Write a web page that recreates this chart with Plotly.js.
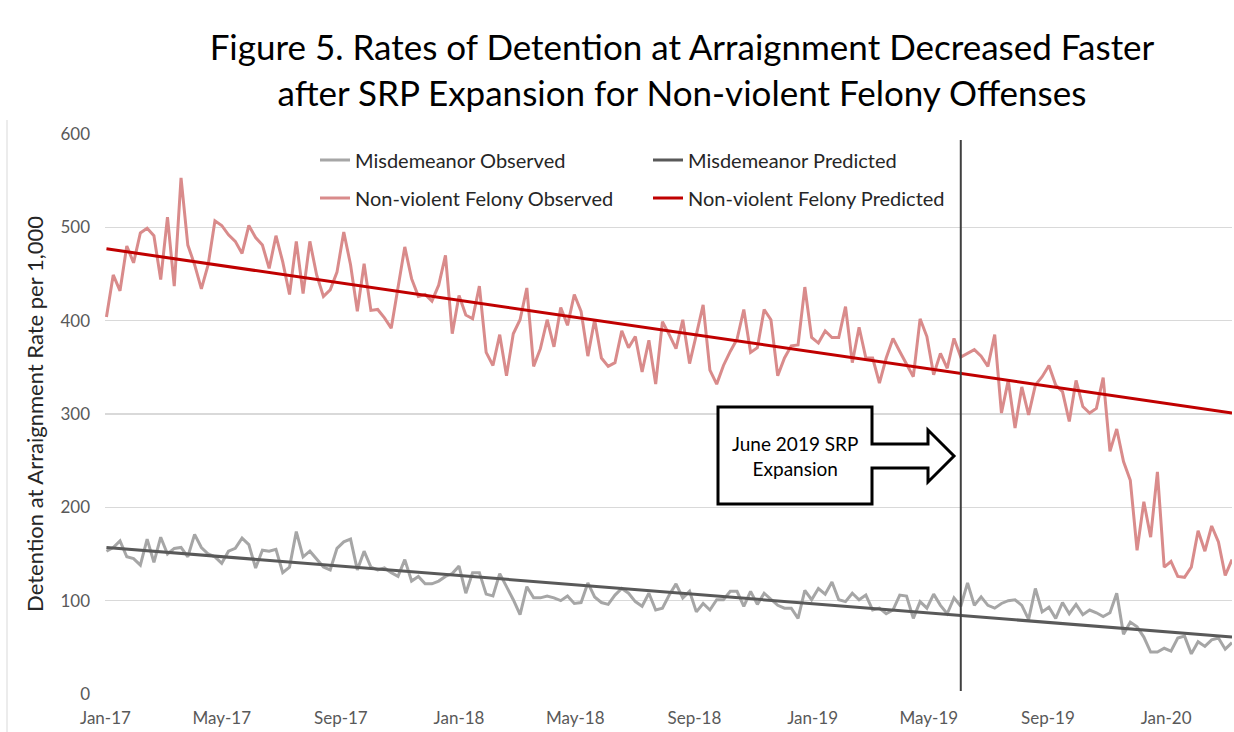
<!DOCTYPE html>
<html><head><meta charset="utf-8">
<script src="https://cdn.plot.ly/plotly-3.0.1.min.js"></script>
<style>html,body{margin:0;padding:0;background:#fff}#chart{width:1234px;height:732px}</style>
</head><body><div id="chart"></div>
<script>
// ---- data (weekly) ----
const startDate = '2017-01-02';
const endDate = '2020-03-09';
const misdemeanorObserved = [
  153,157,164,147,145,138,166,141,168,150,156,157,147,171,157,150,147,140,153,156,167,160,135,154,153,155,130,136,174,
  147,153,145,136,133,156,163,166,133,153,136,133,135,130,126,144,121,126,118,118,121,126,129,137,108,130,130,107,
  105,129,115,101,85,115,103,103,105,103,100,105,97,98,119,104,98,96,106,113,108,99,94,108,90,92,106,
  118,103,110,88,97,90,101,101,110,110,94,110,96,108,101,95,92,92,81,111,101,113,107,120,101,99,108,101,
  106,90,92,86,90,106,105,81,99,92,107,95,86,103,94,119,95,104,95,92,97,100,101,95,80,113,88,93,
  81,98,86,96,85,90,87,83,87,108,64,77,72,61,45,45,49,46,60,62,43,56,51,58,60,48,55
];
const felonyObserved = [
  404,449,432,480,462,494,499,491,444,511,437,553,481,460,434,460,507,502,492,485,472,502,489,481,456,491,463,428,485,
  429,485,449,426,433,452,495,460,410,461,411,412,403,392,435,479,445,426,428,421,438,470,386,427,406,402,437,366,
  352,385,341,386,401,435,351,370,401,372,414,395,428,410,362,401,360,351,355,389,371,383,345,379,332,399,385,
  370,
  401,354,385,417,347,332,352,367,380,412,366,371,412,401,341,360,373,374,436,382,376,389,382,382,415,355,393,
  360,360,333,360,381,367,354,340,402,383,342,365,349,381,361,365,369,362,351,385,301,336,285,329,299,331,340,352,
  331,324,292,336,308,301,306,339,260,284,249,229,154,206,168,238,136,142,126,125,136,175,153,180,163,127,144
];
const predictedDates = [startDate, endDate];
const misdemeanorPredicted = [157, 61];
const felonyPredicted = [477, 301];
const expansionDate = '2019-06-03';
const seriesNames = ['Misdemeanor Observed','Misdemeanor Predicted','Non-violent Felony Observed','Non-violent Felony Predicted'];
const yTitle = 'Detention at Arraignment Rate per 1,000';
const chartTitle = 'Figure 5. Rates of Detention at Arraignment Decreased Faster<br>after SRP Expansion for Non-violent Felony Offenses';
const calloutText = 'June 2019 SRP<br>Expansion';

// weekly dates
function weekly(start, n){
  const out=[]; const d0=new Date(start+'T00:00:00Z');
  for(let i=0;i<n;i++){ const d=new Date(d0.getTime()+i*7*86400000); out.push(d.toISOString().slice(0,10)); }
  return out;
}
const dates = weekly(startDate, felonyObserved.length);

// pixel -> paper helpers (plot area 105..1232 x 134..694)
const L=105, R=1232, T=134, B=694;
const px = v => (v-L)/(R-L);
const py = v => (B-v)/(B-T);

const traces = [
  {x:dates, y:misdemeanorObserved, name:seriesNames[0], type:'scatter', mode:'lines', line:{color:'#a6a6a6', width:3}, legend:'legend'},
  {x:predictedDates, y:misdemeanorPredicted, name:seriesNames[1], type:'scatter', mode:'lines', line:{color:'#595959', width:3}, legend:'legend'},
  {x:dates, y:felonyObserved, name:seriesNames[2], type:'scatter', mode:'lines', line:{color:'#d98b8b', width:3}, legend:'legend2'},
  {x:predictedDates, y:felonyPredicted, name:seriesNames[3], type:'scatter', mode:'lines', line:{color:'#c00000', width:3}, legend:'legend2'}
];

const calloutPath = 'M'+px(718)+','+py(407)+' L'+px(872)+','+py(407)+' L'+px(872)+','+py(444)+' L'+px(928)+','+py(444)+
  ' L'+px(928)+','+py(430)+' L'+px(954)+','+py(456)+' L'+px(928)+','+py(482)+' L'+px(928)+','+py(468)+
  ' L'+px(872)+','+py(468)+' L'+px(872)+','+py(504)+' L'+px(718)+','+py(504)+' Z';

const legendBase = {orientation:'h', xanchor:'left', yanchor:'middle', entrywidth:288, entrywidthmode:'pixels',
  font:{size:20, color:'#262626', family:'Lato'}, bgcolor:'rgba(0,0,0,0)', traceorder:'normal', itemclick:false};

const layout = {
  width:1234, height:732,
  margin:{l:L, r:1234-R, t:T, b:732-B},
  paper_bgcolor:'#ffffff', plot_bgcolor:'#ffffff',
  font:{family:'Lato', color:'#262626'},
  showlegend:true,
  title:{text:chartTitle, font:{size:35, color:'#000000', family:'Lato'}, xref:'container', x:682/1234, xanchor:'center', yref:'container', y:1-60/732, yanchor:'top'},
  xaxis:{type:'date', range:['2016-12-31 12:00', endDate], tick0:'2017-01-01', dtick:'M4', tickformat:'%b-%y',
    showgrid:false, zeroline:false, showline:false, ticks:'', tickfont:{size:17, color:'#595959'}, ticklabelstandoff:12, fixedrange:true},
  yaxis:{range:[0,600], dtick:100, tick0:0, gridcolor:'#d9d9d9', gridwidth:1.3, zeroline:false, showline:false, ticks:'',
    tickfont:{size:17, color:'#595959'}, ticklabelstandoff:14,
    title:{text:yTitle, font:{size:22, color:'#262626'}, standoff:10}, fixedrange:true},
  legend:Object.assign({}, legendBase, {x:px(315), y:py(160)}),
  legend2:Object.assign({}, legendBase, {x:px(315), y:py(198)}),
  shapes:[
    {type:'line', xref:'x', yref:'paper', x0:expansionDate, x1:expansionDate, y0:py(691), y1:py(140), line:{color:'#404040', width:2}, layer:'above'},
    {type:'path', xref:'paper', yref:'paper', path:calloutPath, line:{color:'#000000', width:3}, fillcolor:'#ffffff', layer:'above'},
    {type:'line', xref:'paper', yref:'paper', x0:px(7), x1:px(7), y0:py(732), y1:py(120), line:{color:'#d9d9d9', width:1}, layer:'below'}
  ],
  annotations:[
    {text:calloutText, xref:'paper', yref:'paper', x:px(795), y:py(456), xanchor:'center', yanchor:'middle', showarrow:false,
     font:{size:19, color:'#000000', family:'Lato'}, align:'center'}
  ]
};

Plotly.newPlot('chart', traces, layout, {displayModeBar:false, staticPlot:true});
</script></body></html>
